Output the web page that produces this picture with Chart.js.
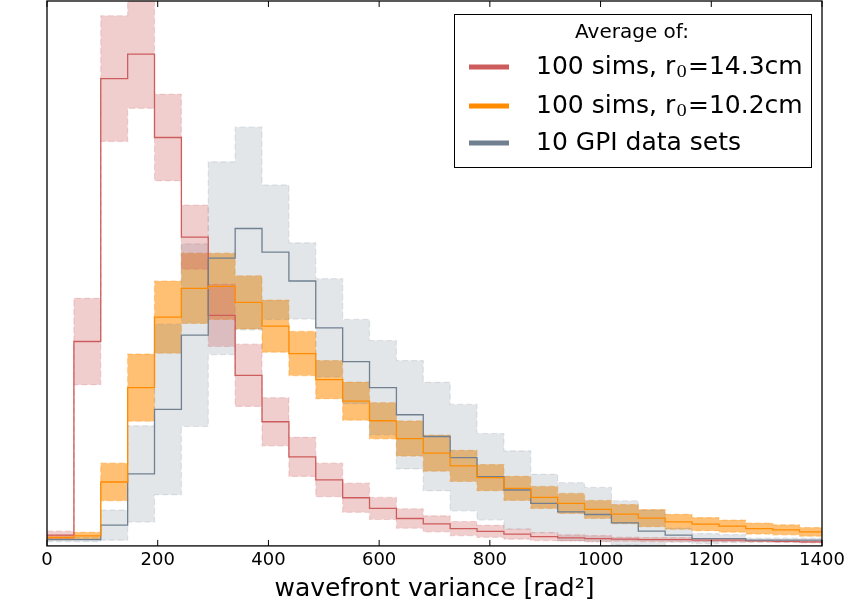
<!DOCTYPE html>
<html>
<head>
<meta charset="utf-8">
<script src="https://cdn.jsdelivr.net/npm/chart.js@4.4.1/dist/chart.umd.min.js"></script>
<style>
  html, body { margin: 0; padding: 0; background: #fff; }
  canvas { display: block; }
</style>
</head>
<body>
<canvas id="histChart" width="857" height="603"></canvas>
<script>
// bin edges of the histogram (wavefront variance, rad^2)
var binEdges = [0, 48.6, 97.1, 145.7, 194.2, 242.8, 291.3, 339.9, 388.4, 437.0, 485.5, 534.1,
  582.6, 631.2, 679.7, 728.3, 776.8, 825.4, 873.9, 922.5, 971.0, 1019.6, 1068.1, 1116.7,
  1165.2, 1213.8, 1262.3, 1310.9, 1359.4, 1408.0];

// 100 sims, r0 = 14.3cm : mean and spread per bin
var simsFarMean = [0.107, 2.037, 4.657, 4.90, 4.07, 3.077, 2.297, 1.70, 1.237, 0.887, 0.657, 0.48,
  0.373, 0.273, 0.22, 0.173, 0.145, 0.117, 0.093, 0.08, 0.073, 0.067, 0.063, 0.063, 0.057,
  0.057, 0.05, 0.045, 0.04];
var simsFarStd = [0.04, 0.43, 0.626, 0.54, 0.43, 0.32, 0.31, 0.31, 0.24, 0.195, 0.167, 0.145,
  0.11, 0.097, 0.08, 0.07, 0.06, 0.05, 0.04, 0.03, 0.03, 0.02, 0.02, 0.02, 0.015, 0.015,
  0.01, 0.01, 0.01];

// 100 sims, r0 = 10.2cm
var simsNearMean = [0.083, 0.10, 0.637, 1.577, 2.28, 2.567, 2.587, 2.427, 2.19, 1.917, 1.657,
  1.443, 1.247, 1.07, 0.925, 0.797, 0.68, 0.573, 0.483, 0.423, 0.363, 0.317, 0.277, 0.24,
  0.217, 0.197, 0.173, 0.16, 0.14];
var simsNearStd = [0.02, 0.035, 0.187, 0.335, 0.36, 0.35, 0.33, 0.265, 0.26, 0.22, 0.19, 0.19,
  0.18, 0.175, 0.18, 0.155, 0.13, 0.12, 0.11, 0.10, 0.09, 0.095, 0.085, 0.075, 0.065, 0.06,
  0.055, 0.05, 0.043];

// 10 GPI data sets
var gpiMean = [0.063, 0.063, 0.207, 0.717, 1.36, 2.10, 2.867, 3.163, 2.927, 2.64, 2.173, 1.837,
  1.577, 1.307, 1.09, 0.88, 0.69, 0.557, 0.423, 0.34, 0.313, 0.23, 0.147, 0.107, 0.073,
  0.073, 0.057, 0.057, 0.057];
var gpiStd = [0.02, 0.02, 0.15, 0.48, 0.85, 0.91, 0.96, 1.01, 0.67, 0.38, 0.49, 0.42, 0.47,
  0.54, 0.54, 0.53, 0.43, 0.39, 0.29, 0.29, 0.27, 0.22, 0.21, 0.07, 0.05, 0.04, 0.02, 0.02,
  0.02];

var xTicks = [0, 200, 400, 600, 800, 1000, 1200, 1400];
var legendTitle = 'Average of:';
// legend labels as [text, subscript, text] pieces
var seriesNames = [['100 sims, r', '0', '=14.3cm'], ['100 sims, r', '0', '=10.2cm'],
  ['10 GPI data sets', '', '']];

// step points: one point per left edge, plus the closing right edge
function steps(vals) {
  var pts = vals.map(function (v, i) { return { x: binEdges[i], y: v }; });
  pts.push({ x: binEdges[vals.length], y: vals[vals.length - 1] });
  return pts;
}
function shift(mean, std, sign) {
  return mean.map(function (m, i) { return m + sign * std[i]; });
}

var colors = {
  red: '#cd5c5c', redBand: 'rgba(205,92,92,0.3)', redEdge: 'rgba(205,92,92,0.22)',
  orange: '#ff8c00', orangeBand: 'rgba(255,140,0,0.55)', orangeEdge: 'rgba(255,140,0,0.35)',
  gray: '#708090', grayBand: 'rgba(112,128,144,0.2)', grayEdge: 'rgba(112,128,144,0.18)'
};

function band(mean, std, fillCol, edgeCol, order) {
  return [{
    data: steps(shift(mean, std, 1)), stepped: true, fill: '+1',
    backgroundColor: fillCol, borderColor: edgeCol, borderWidth: 1.2,
    borderDash: [6, 3], pointRadius: 0, order: order
  }, {
    data: steps(shift(mean, std, -1)), stepped: true, fill: false,
    borderColor: edgeCol, borderWidth: 1.2, borderDash: [6, 3],
    pointRadius: 0, order: order
  }];
}
function meanLine(mean, col) {
  return { data: steps(mean), stepped: true, fill: false, borderColor: col,
    borderWidth: 1.3, pointRadius: 0, order: 1 };
}

var datasets = []
  .concat(band(simsNearMean, simsNearStd, colors.orangeBand, colors.orangeEdge, 4))
  .concat(band(gpiMean, gpiStd, colors.grayBand, colors.grayEdge, 3))
  .concat(band(simsFarMean, simsFarStd, colors.redBand, colors.redEdge, 2))
  .concat([meanLine(simsNearMean, colors.orange), meanLine(gpiMean, colors.gray),
    meanLine(simsFarMean, colors.red)]);

var framePlugin = {
  id: 'frame',
  afterDraw: function (chart) {
    var ctx = chart.ctx, a = chart.chartArea, xs = chart.scales.x;
    ctx.save();
    ctx.strokeStyle = '#000';
    ctx.lineWidth = 1.3;
    ctx.strokeRect(a.left, a.top, a.right - a.left, a.bottom - a.top);
    ctx.lineWidth = 1;
    xTicks.forEach(function (t) {
      var px = xs.getPixelForValue(t);
      ctx.beginPath();
      ctx.moveTo(px, a.bottom); ctx.lineTo(px, a.bottom - 6);
      ctx.moveTo(px, a.top); ctx.lineTo(px, a.top + 6);
      ctx.stroke();
    });

    // legend box
    var bx = 454, by = 14, bw = 357, bh = 153;
    ctx.fillStyle = '#fff';
    ctx.fillRect(bx, by, bw, bh);
    ctx.lineWidth = 1;
    ctx.strokeRect(bx + 0.5, by + 0.5, bw, bh);
    ctx.fillStyle = '#000';
    ctx.textBaseline = 'middle';
    ctx.textAlign = 'center';
    ctx.font = '20px "DejaVu Sans"';
    ctx.fillText(legendTitle, 632, 33);
    var lineCols = [colors.red, colors.orange, colors.gray];
    var rows = [67, 106, 143];
    ctx.textAlign = 'left';
    rows.forEach(function (y, i) {
      ctx.strokeStyle = lineCols[i];
      ctx.lineWidth = 5;
      ctx.beginPath();
      ctx.moveTo(469, y); ctx.lineTo(509, y);
      ctx.stroke();
      var parts = seriesNames[i], x = 536;
      ctx.font = '25px "DejaVu Sans"';
      ctx.fillText(parts[0], x, y);
      x += ctx.measureText(parts[0]).width;
      if (parts[1]) {
        ctx.font = '17px "DejaVu Serif"';
        ctx.fillText(parts[1], x + 1, y + 6);
        x += ctx.measureText(parts[1]).width + 2;
        ctx.font = '25px "DejaVu Sans"';
        ctx.fillText(parts[2], x, y);
      }
    });
    ctx.restore();
  }
};

var ctx = document.getElementById('histChart').getContext('2d');
new Chart(ctx, {
  type: 'line',
  data: { datasets: datasets },
  options: {
    responsive: false,
    animation: false,
    layout: { padding: { left: 47, right: 35, top: 1, bottom: 0 } },
    plugins: { legend: { display: false }, tooltip: { enabled: false } },
    scales: {
      x: {
        type: 'linear', min: 0, max: 1400,
        afterBuildTicks: function (s) { s.ticks = xTicks.map(function (v) { return { value: v }; }); },
        grid: { display: false, drawTicks: false },
        border: { display: false },
        ticks: { color: '#000', padding: 4, font: { family: 'DejaVu Sans', size: 18 },
          callback: function (v) { return String(v); } },
        title: { display: true, text: 'wavefront variance [rad\u00b2]', color: '#000',
          padding: { top: 0, bottom: 0 },
          font: { family: 'DejaVu Sans', size: 25, lineHeight: 1.1 } }
      },
      y: { display: false, min: 0, max: 5.43 }
    }
  },
  plugins: [framePlugin]
});
</script>
</body>
</html>
